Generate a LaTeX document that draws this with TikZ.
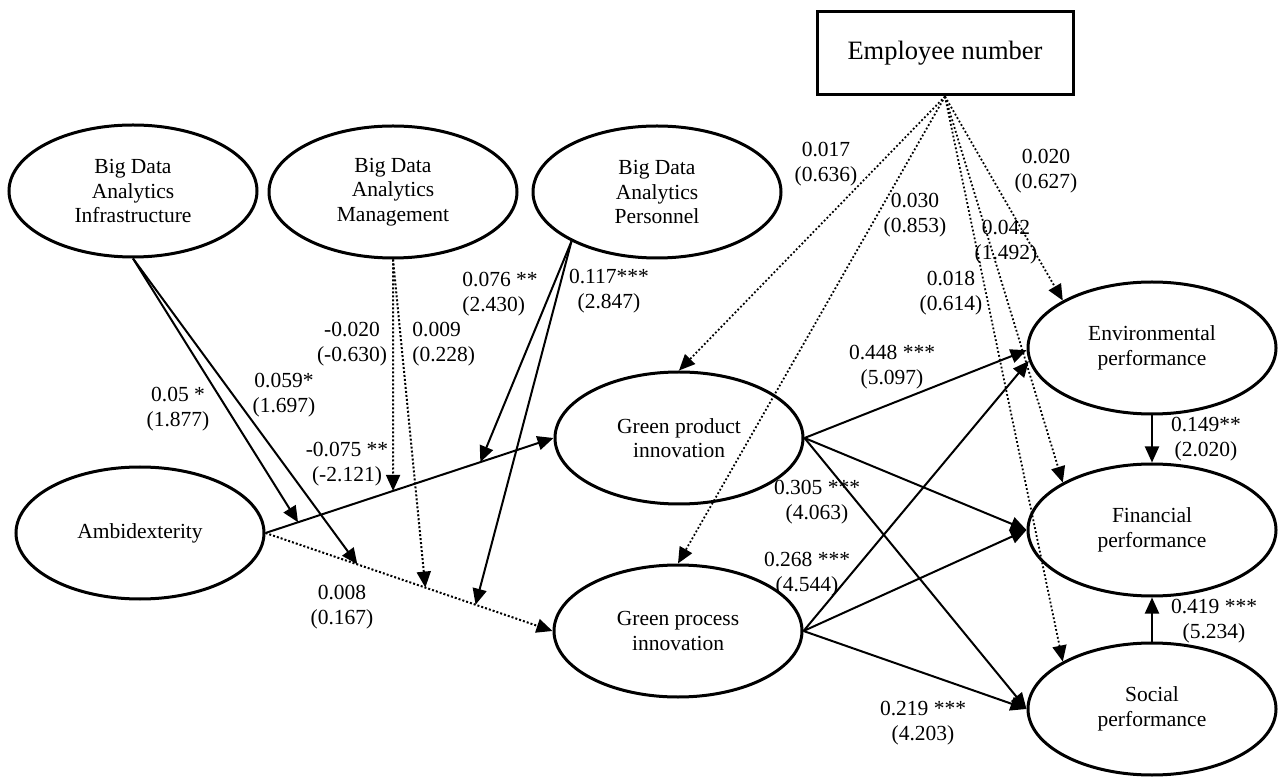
\documentclass[tikz,border=0pt]{standalone}
\usepackage{fontspec}
\setmainfont{Liberation Serif}
\usetikzlibrary{arrows.meta,calc,shapes.geometric}
\begin{document}
\begin{tikzpicture}[x=0.5pt,y=-0.5pt,
  latent/.style={ellipse,draw,line width=1.5pt,minimum width=124pt,minimum height=66pt,
    inner sep=0pt,align=center,font=\fontsize{10.75}{12.3}\selectfont},
  ctrlbox/.style={rectangle,draw,line width=1.5pt,minimum width=128pt,minimum height=41.5pt,
    inner sep=0pt,font=\fontsize{13.25}{15}\selectfont},
  coef/.style={inner sep=0pt,align=center,font=\fontsize{10.75}{12.3}\selectfont},
  effect/.style={line width=1pt,-{Triangle[length=8pt,width=7pt]}},
  nseffect/.style={effect,dash pattern=on 1pt off 1pt},
  ctrl/.style={line width=0.9pt,dash pattern=on 0.9pt off 1.1pt,-{Triangle[length=8pt,width=7pt]}}
]
\path[fill=white,use as bounding box] (0,0) rectangle (1280,780);

% constructs
\node[latent] (bdai) at (133,191) {Big Data\\Analytics\\Infrastructure};
\node[latent] (bdam) at (393,192) {Big Data\\Analytics\\Management};
\node[latent] (bdap) at (657,192) {Big Data\\Analytics\\Personnel};
\node[latent] (amb)  at (140,533) {Ambidexterity};
\node[latent] (gpi)  at (679,438) {Green product\\innovation};
\node[latent] (gpc)  at (678,631) {Green process\\innovation};
\node[latent] (env)  at (1152,348) {Environmental\\performance};
\node[latent] (fin)  at (1152,530) {Financial\\performance};
\node[latent] (soc)  at (1152,709) {Social\\performance};
\node[ctrlbox] (emp) at (945,53.5) {Employee number};

% direct paths from ambidexterity
\draw[effect]   (amb.east) -- (gpi.west);
\draw[nseffect] (amb.east) -- (gpc.west);

% moderation points on the two direct paths
\coordinate (mA1) at ($(amb.east)!0.113!(gpi.west)$);
\coordinate (mA2) at ($(amb.east)!0.443!(gpi.west)$);
\coordinate (mA3) at ($(amb.east)!0.746!(gpi.west)$);
\coordinate (mB1) at ($(amb.east)!0.320!(gpc.west)$);
\coordinate (mB2) at ($(amb.east)!0.557!(gpc.west)$);
\coordinate (mB3) at ($(amb.east)!0.732!(gpc.west)$);

\draw[effect]   (bdai.south) -- (mA1);
\draw[effect]   (bdai.south) -- (mB1);
\draw[nseffect] (bdam.south) -- (mA2);
\draw[nseffect] (bdam.south) -- (mB2);
\draw[effect]   (bdap.210) -- (mA3);
\draw[effect]   (bdap.210) -- (mB3);

% innovation to performance
\draw[effect] (gpi.east) -- (env.181);
\draw[effect] (gpi.east) -- (fin.west);
\draw[effect] (gpi.east) -- (soc.west);
\draw[effect] (gpc.east) -- (env.186);
\draw[effect] (gpc.east) -- (fin.west);
\draw[effect] (gpc.east) -- (soc.west);
\draw[effect] (env.south) -- (fin.north);
\draw[effect] (soc.north) -- (fin.south);

% control variable
\draw[ctrl] (emp.south) -- (gpi.north);
\draw[ctrl] (emp.south) -- (gpc.north);
\draw[ctrl] (emp.south) -- (env.152);
\draw[ctrl] (emp.south) -- (fin.152);
\draw[ctrl] (emp.south) -- (soc.152);

% path coefficients (t-values)
\node[coef] (c1)  at (178,409) {0.05 *\\(1.877)};
\node[coef] (c2)  at (284,395) {0.059*\\(1.697)};
\node[coef] (c3)  at (352,344) {-0.020\\(-0.630)};
\node[coef,anchor=west,align=left] (c4) at (412,344) {0.009\\(0.228)};
\node[coef,anchor=west,align=left] (c5) at (462,294) {0.076 **\\(2.430)};
\node[coef] (c6)  at (609,291) {0.117***\\(2.847)};
\node[coef] (c7)  at (347,464) {-0.075 **\\(-2.121)};
\node[coef] (c8)  at (342,607) {0.008\\(0.167)};
\node[coef] (c9)  at (892,367) {0.448 ***\\(5.097)};
\node[coef] (c10) at (817,502) {0.305 ***\\(4.063)};
\node[coef] (c11) at (807,574) {0.268 ***\\(4.544)};
\node[coef] (c12) at (923,723) {0.219 ***\\(4.203)};
\node[coef] (c13) at (1206,439) {0.149**\\(2.020)};
\node[coef] (c14) at (1214,621) {0.419 ***\\(5.234)};
\node[coef] (c15) at (826,164) {0.017\\(0.636)};
\node[coef] (c16) at (915,215) {0.030\\(0.853)};
\node[coef] (c17) at (1046,171) {0.020\\(0.627)};
\node[coef] (c18) at (1006,242) {0.042\\(1.492)};
\node[coef] (c19) at (951,293) {0.018\\(0.614)};
\end{tikzpicture}
\end{document}
